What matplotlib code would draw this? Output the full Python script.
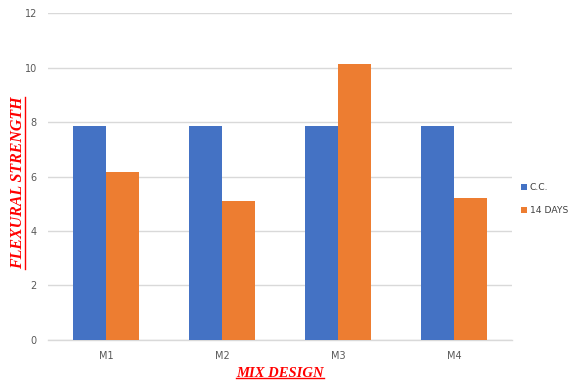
import matplotlib
matplotlib.use("Agg")
import matplotlib.pyplot as plt
import numpy as np
from matplotlib.lines import Line2D

categories = ["M1", "M2", "M3", "M4"]
cc_values = [7.85, 7.85, 7.85, 7.85]
days14_values = [6.17, 5.1, 10.13, 5.21]
series_names = ["C.C.", "14 DAYS"]
yticks = [0, 2, 4, 6, 8, 10, 12]

fig = plt.figure(figsize=(5.68, 3.85), dpi=100)
ax = fig.add_axes([0.0845, 0.117, 0.817, 0.849])

x = np.arange(len(categories))
w = 0.285
ax.bar(x - w / 2, cc_values, w, color="#4472C4", label=series_names[0], zorder=3)
ax.bar(x + w / 2, days14_values, w, color="#ED7D31", label=series_names[1], zorder=3)

ax.set_xlim(-0.5, len(categories) - 0.5)
ax.set_ylim(0, 12)
ax.set_yticks(yticks)
ax.set_yticklabels([str(v) for v in yticks])
ax.set_xticks(x)
ax.set_xticklabels(categories)
ax.tick_params(axis="both", length=0, labelsize=7, labelcolor="#595959")
ax.tick_params(axis="y", pad=8)
ax.tick_params(axis="x", pad=8)
ax.grid(axis="y", color="#d9d9d9", linewidth=1, zorder=0)
for s in ["top", "right", "left"]:
    ax.spines[s].set_visible(False)
ax.spines["bottom"].set_color("#d9d9d9")
ax.spines["bottom"].set_linewidth(1)

leg = fig.legend(loc="center left", bbox_to_anchor=(0.918, 0.483), frameon=False,
                 prop=dict(family=["Liberation Sans Narrow", "DejaVu Sans"], size=6.6),
                 handlelength=0.6, handleheight=0.6, handletextpad=0.3,
                 labelspacing=1.55, labelcolor="#404040", borderaxespad=0, borderpad=0)

font = dict(family="Liberation Serif", weight="bold", style="italic", color="red")
tx = fig.text(0.493, 0.012, "MIX DESIGN", ha="center", va="bottom", fontsize=10.5, **font)
ty = fig.text(0.032, 0.525, "FLEXURAL STRENGTH", ha="center", va="center",
              rotation=90, fontsize=11.5, **font)

fig.canvas.draw()
r = fig.canvas.get_renderer()
inv = fig.transFigure.inverted()
bb = tx.get_window_extent(r)
(x0, y0), (x1, y1) = inv.transform([(bb.x0, bb.y0 + 2), (bb.x1, bb.y0 + 2)])
fig.add_artist(Line2D([x0, x1], [y0, y1], color="red", lw=1, transform=fig.transFigure))
bb = ty.get_window_extent(r)
(x0, y0), (x1, y1) = inv.transform([(bb.x1 - 1, bb.y0), (bb.x1 - 1, bb.y1)])
fig.add_artist(Line2D([x0, x1], [y0, y1], color="red", lw=1, transform=fig.transFigure))

fig.savefig("out.png", dpi=100)
